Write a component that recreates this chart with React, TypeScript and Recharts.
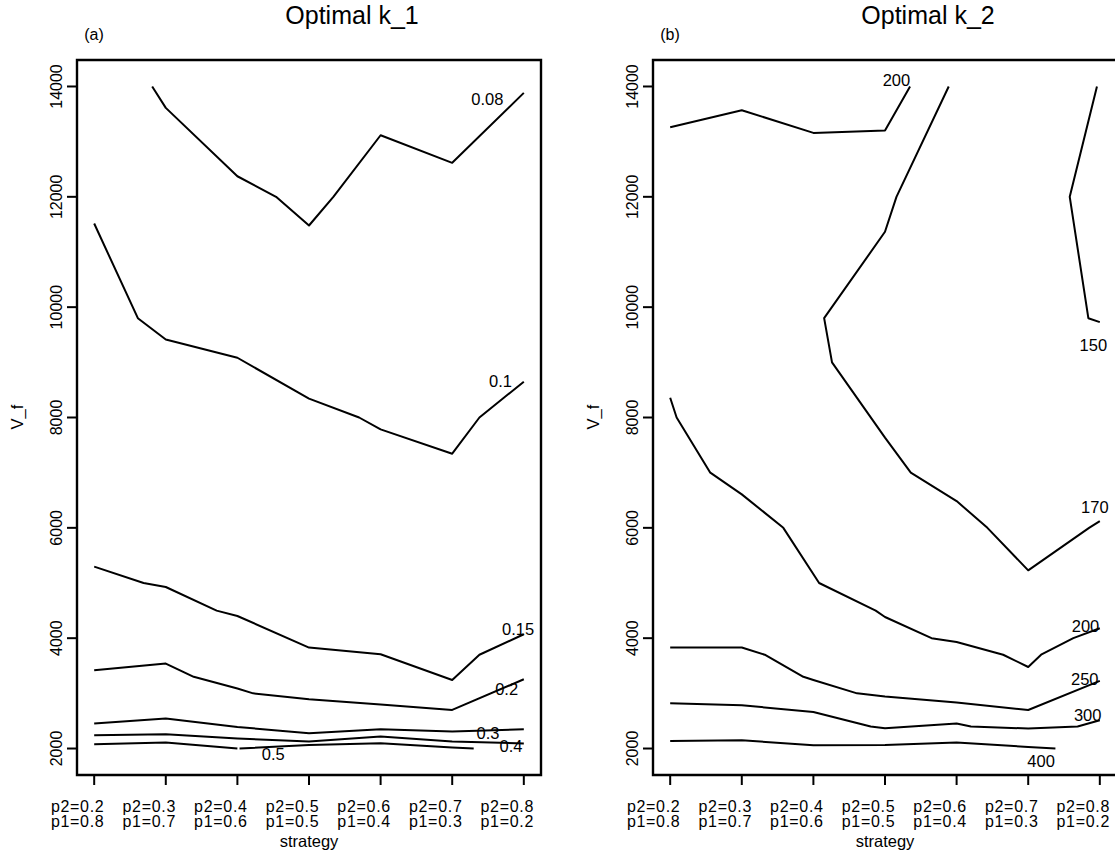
import React from 'react';
import { LineChart, Line, XAxis, YAxis, ReferenceArea, ReferenceDot } from 'recharts';

const FONT = '"Liberation Sans", Arial, Helvetica, sans-serif';

const strategyTicks = [1, 2, 3, 4, 5, 6, 7];
const p2Labels = ['p2=0.2', 'p2=0.3', 'p2=0.4', 'p2=0.5', 'p2=0.6', 'p2=0.7', 'p2=0.8'];
const p1Labels = ['p1=0.8', 'p1=0.7', 'p1=0.6', 'p1=0.5', 'p1=0.4', 'p1=0.3', 'p1=0.2'];
const vfTicks = [2000, 4000, 6000, 8000, 10000, 12000, 14000];
const xDomain = [0.76, 7.24];
const yDomain = [1520, 14480];

// ---- Panel (a): Optimal k_1 contours ----
const k1_008 = [
  { x: 1.81, y: 14000 }, { x: 2, y: 13612 }, { x: 3, y: 12373 }, { x: 3.54, y: 12000 },
  { x: 4, y: 11480 }, { x: 4.34, y: 12000 }, { x: 5, y: 13116 }, { x: 6, y: 12616 }, { x: 7, y: 13884 },
];
const k1_010 = [
  { x: 1, y: 11516 }, { x: 1.61, y: 9800 }, { x: 2, y: 9415 }, { x: 3, y: 9083 }, { x: 4, y: 8341 },
  { x: 4.7, y: 8000 }, { x: 5, y: 7784 }, { x: 6, y: 7344 }, { x: 6.38, y: 8000 }, { x: 7, y: 8649 },
];
const k1_015 = [
  { x: 1, y: 5297 }, { x: 1.69, y: 5000 }, { x: 2, y: 4928 }, { x: 2.71, y: 4500 }, { x: 3, y: 4402 },
  { x: 4, y: 3830 }, { x: 5, y: 3708 }, { x: 6, y: 3243 }, { x: 6.38, y: 3700 }, { x: 7, y: 4071 },
];
const k1_020 = [
  { x: 1, y: 3418 }, { x: 2, y: 3540 }, { x: 2.39, y: 3300 }, { x: 3, y: 3087 }, { x: 3.22, y: 3000 },
  { x: 4, y: 2893 }, { x: 5, y: 2797 }, { x: 6, y: 2699 }, { x: 7, y: 3255 },
];
const k1_030 = [
  { x: 1, y: 2453 }, { x: 2, y: 2543 }, { x: 3, y: 2391 }, { x: 4, y: 2277 }, { x: 5, y: 2350 },
  { x: 6, y: 2308 }, { x: 7, y: 2350 },
];
const k1_040 = [
  { x: 1, y: 2241 }, { x: 2, y: 2259 }, { x: 3, y: 2181 }, { x: 4, y: 2127 }, { x: 5, y: 2217 },
  { x: 6, y: 2127 }, { x: 7, y: 2091 },
];
const k1_050a = [{ x: 1, y: 2078 }, { x: 2, y: 2109 }, { x: 3, y: 2000 }];
const k1_050b = [
  { x: 3.03, y: 2000 }, { x: 4, y: 2065 }, { x: 5, y: 2096 }, { x: 6, y: 2018 }, { x: 6.3, y: 2000 },
];
const k1Lines = [k1_008, k1_010, k1_015, k1_020, k1_030, k1_040, k1_050a, k1_050b];
const k1Labels = [
  { text: '0.08', x: 6.49, y: 13775 },
  { text: '0.1', x: 6.675, y: 8654 },
  { text: '0.15', x: 6.92, y: 4167 },
  { text: '0.2', x: 6.76, y: 3074 },
  { text: '0.3', x: 6.5, y: 2277 },
  { text: '0.4', x: 6.82, y: 2036 },
  { text: '0.5', x: 3.5, y: 1891 },
];

// ---- Panel (b): Optimal k_2 contours ----
const k2_200top = [
  { x: 1, y: 13261 }, { x: 2, y: 13569 }, { x: 3, y: 13159 }, { x: 4, y: 13201 }, { x: 4.35, y: 14000 },
];
const k2_170 = [
  { x: 4.89, y: 14000 }, { x: 4.16, y: 12000 }, { x: 4, y: 11366 }, { x: 3.15, y: 9800 },
  { x: 3.26, y: 9000 }, { x: 4, y: 7634 }, { x: 4.36, y: 7000 }, { x: 5, y: 6486 },
  { x: 5.43, y: 6000 }, { x: 6, y: 5230 }, { x: 6.85, y: 6000 }, { x: 7, y: 6123 },
];
const k2_150 = [{ x: 6.96, y: 14000 }, { x: 6.58, y: 12000 }, { x: 6.84, y: 9800 }, { x: 7, y: 9728 }];
const k2_200 = [
  { x: 1, y: 8359 }, { x: 1.09, y: 8000 }, { x: 1.56, y: 7000 }, { x: 2, y: 6607 }, { x: 2.58, y: 6000 },
  { x: 3.08, y: 5000 }, { x: 3.87, y: 4500 }, { x: 4, y: 4384 }, { x: 4.65, y: 4000 }, { x: 5, y: 3931 },
  { x: 5.65, y: 3700 }, { x: 6, y: 3478 }, { x: 6.18, y: 3700 }, { x: 6.63, y: 4000 }, { x: 7, y: 4179 },
];
const k2_250 = [
  { x: 1, y: 3830 }, { x: 2, y: 3830 }, { x: 2.32, y: 3700 }, { x: 2.86, y: 3300 }, { x: 3, y: 3243 },
  { x: 3.61, y: 3000 }, { x: 4, y: 2942 }, { x: 5, y: 2833 }, { x: 6, y: 2699 }, { x: 7, y: 3225 },
];
const k2_300 = [
  { x: 1, y: 2821 }, { x: 2, y: 2784 }, { x: 3, y: 2663 }, { x: 3.8, y: 2400 }, { x: 4, y: 2368 },
  { x: 5, y: 2453 }, { x: 5.2, y: 2400 }, { x: 6, y: 2362 }, { x: 6.69, y: 2400 }, { x: 7, y: 2513 },
];
const k2_400 = [
  { x: 1, y: 2138 }, { x: 2, y: 2150 }, { x: 3, y: 2060 }, { x: 4, y: 2065 }, { x: 5, y: 2109 },
  { x: 6, y: 2029 }, { x: 6.38, y: 2000 },
];
const k2Lines = [k2_200top, k2_170, k2_150, k2_200, k2_250, k2_300, k2_400];
const k2Labels = [
  { text: '200', x: 4.16, y: 14112 },
  { text: '150', x: 6.91, y: 9312 },
  { text: '170', x: 6.93, y: 6384 },
  { text: '200', x: 6.8, y: 4221 },
  { text: '250', x: 6.79, y: 3255 },
  { text: '300', x: 6.83, y: 2603 },
  { text: '400', x: 6.18, y: 1775 },
];

const XTick = (props: any) => {
  const { x, y, payload } = props;
  const i = strategyTicks.indexOf(payload.value);
  const cx = x - 16.5;
  return (
    <g>
      <text x={cx} y={y + 25} textAnchor="middle" fontSize={16} letterSpacing={0.7} fontFamily={FONT} fill="#000">{p2Labels[i]}</text>
      <text x={cx} y={y + 40} textAnchor="middle" fontSize={16} letterSpacing={0.7} fontFamily={FONT} fill="#000">{p1Labels[i]}</text>
    </g>
  );
};

const YTick = (props: any) => {
  const { x, y, payload } = props;
  return (
    <text x={x} y={y} transform={`rotate(-90 ${x} ${y})`} textAnchor="middle" fontSize={16} fontFamily={FONT} fill="#000">
      {payload.value}
    </text>
  );
};

const Panel = ({ lines, labels }: { lines: { x: number; y: number }[][]; labels: { text: string; x: number; y: number }[] }) => (
  <LineChart width={560} height={857} margin={{ top: 60, left: 17, right: 19, bottom: 12 }}>
    <XAxis
      type="number"
      dataKey="x"
      domain={xDomain}
      allowDataOverflow
      ticks={strategyTicks}
      tick={<XTick />}
      tickSize={10}
      tickMargin={2}
      tickLine={{ stroke: '#000', strokeWidth: 2 }}
      axisLine={false}
      height={70}
      interval={0}
    />
    <YAxis
      type="number"
      dataKey="y"
      domain={yDomain}
      allowDataOverflow
      ticks={vfTicks}
      tick={<YTick />}
      tickSize={10}
      tickMargin={5}
      tickLine={{ stroke: '#000', strokeWidth: 2 }}
      axisLine={false}
      width={60}
      interval={0}
    />
    <ReferenceArea
      x1={xDomain[0]}
      x2={xDomain[1]}
      y1={yDomain[0]}
      y2={yDomain[1]}
      fill="none"
      fillOpacity={0}
      stroke="#000"
      strokeWidth={2.4}
      ifOverflow="visible"
    />
    {lines.map((pts, i) => (
      <Line
        key={i}
        data={pts}
        dataKey="y"
        type="linear"
        stroke="#000"
        strokeWidth={2}
        strokeLinejoin="round"
        dot={false}
        activeDot={false}
        isAnimationActive={false}
      />
    ))}
    {labels.map((l, i) => (
      <ReferenceDot
        key={'l' + i}
        x={l.x}
        y={l.y}
        r={0}
        fill="none"
        stroke="none"
        ifOverflow="visible"
        label={{ value: l.text, position: 'center', fontSize: 16.5, fill: '#000', fontFamily: FONT }}
      />
    ))}
  </LineChart>
);

export default function App() {
  return (
    <div style={{ position: 'absolute', left: 0, top: 0, width: 1115, height: 857, overflow: 'hidden', background: '#fff' }}>
      <div style={{ position: 'absolute', left: 0, top: 0 }}>
        <Panel lines={k1Lines} labels={k1Labels} />
      </div>
      <div style={{ position: 'absolute', left: 576, top: 0 }}>
        <Panel lines={k2Lines} labels={k2Labels} />
      </div>
      <svg width={1115} height={857} style={{ position: 'absolute', left: 0, top: 0, pointerEvents: 'none' }}>
        <g fontFamily={FONT} fill="#000">
          <text x={352} y={24} textAnchor="middle" fontSize={25}>Optimal k_1</text>
          <text x={928} y={24} textAnchor="middle" fontSize={25}>Optimal k_2</text>
          <text x={94} y={40} textAnchor="middle" fontSize={16}>(a)</text>
          <text x={670} y={40} textAnchor="middle" fontSize={16}>(b)</text>
          <text x={309} y={847} textAnchor="middle" fontSize={16.5}>strategy</text>
          <text x={885} y={847} textAnchor="middle" fontSize={16.5}>strategy</text>
          <text x={23} y={417} textAnchor="middle" fontSize={16.5} transform="rotate(-90 23 417)">V_f</text>
          <text x={599} y={417} textAnchor="middle" fontSize={16.5} transform="rotate(-90 599 417)">V_f</text>
        </g>
      </svg>
    </div>
  );
}
